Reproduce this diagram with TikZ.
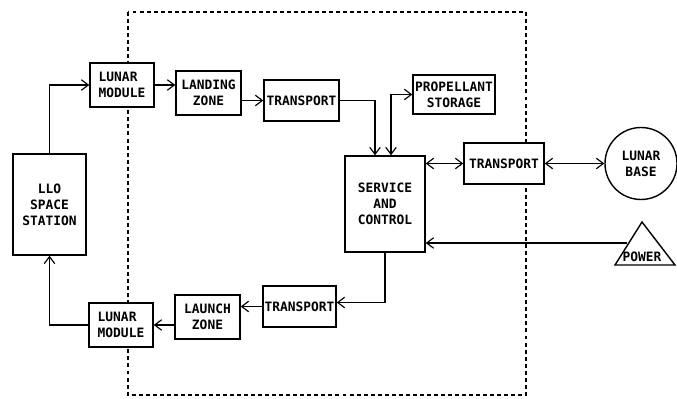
\documentclass[tikz,border=0pt]{standalone}
\usepackage{fontspec}
\setmonofont{DejaVu Sans Mono}
\usetikzlibrary{arrows.meta}
\tikzset{
  unit/.style={draw,line width=1.2pt,fill=white,inner sep=0pt,align=center,
    font=\ttfamily\bfseries\fontsize{11}{13.5}\selectfont},
  flow/.style={line width=1pt,-{Straight Barb[length=6pt,width=9pt]}},
  twoway/.style={line width=1pt,{Straight Barb[length=6pt,width=9pt]}-{Straight Barb[length=6pt,width=9pt]}}
}

\begin{document}
\begin{tikzpicture}[x=0.03cm,y=-0.03cm]
\path[use as bounding box] (0,0) rectangle (677,399);
% site boundary
\draw[line width=1.7pt,dash pattern=on 3.4pt off 2.6pt] (128,12) rectangle (526,395);
% units
\node[unit,minimum width=2.19cm,minimum height=3.03cm] (llo) at (49.5,204.5) {LLO\\SPACE\\STATION};
\node[unit,align=left,minimum width=1.92cm,minimum height=1.32cm] (lmtop) at (122,85) {LUNAR\\MODULE};
\node[unit,minimum width=1.95cm,minimum height=1.32cm] (landing) at (208.5,93) {LANDING\\ZONE};
\node[unit,minimum width=2.25cm,minimum height=1.23cm] (trtop) at (301.5,100.5) {TRANSPORT};
\node[unit,minimum width=2.46cm,minimum height=1.17cm] (prop) at (454,94.5) {PROPELLANT\\STORAGE};
\node[unit,minimum width=2.40cm,minimum height=2.88cm] (serv) at (385,204) {SERVICE\\AND\\CONTROL};
\node[unit,minimum width=2.40cm,minimum height=1.23cm] (trright) at (504,163.5) {TRANSPORT};
\node[unit,circle,minimum size=2.16cm] (base) at (641,163.5) {LUNAR\\BASE};
\node[unit,minimum width=2.19cm,minimum height=1.23cm] (trbot) at (299.5,306.5) {TRANSPORT};
\node[unit,minimum width=1.95cm,minimum height=1.32cm] (launch) at (207.5,317) {LAUNCH\\ZONE};
\node[unit,align=left,minimum width=1.92cm,minimum height=1.32cm] (lmbot) at (121,325) {LUNAR\\MODULE};
% power source
\draw[line width=1.2pt] (642,222) -- (675,265) -- (615,265) -- cycle;
\node[font=\ttfamily\bfseries\fontsize{11}{13.5}\selectfont,inner sep=0pt] (power) at (642,257) {POWER};
\coordinate (pwr) at (627,243);
% flows
\draw[flow] (llo.north) |- (lmtop.west);
\draw[flow] (lmtop.east) -- (landing.west |- lmtop.east);
\draw[flow] (landing.east |- trtop.west) -- (trtop.west);
\draw[flow] (trtop.east) -| ([xshift=-0.3cm]serv.north);
\draw[twoway] ([xshift=0.18cm]serv.north) |- (prop.west);
\draw[twoway] (trright.west -| serv.east) -- (trright.west);
\draw[twoway] (trright.east) -- (base.west);
\draw[flow] (pwr) -- (serv.east |- pwr);
\draw[flow] (serv.south) |- ([yshift=0.12cm]trbot.east);
\draw[flow] (trbot.west) -- (trbot.west -| launch.east);
\draw[flow] (lmbot.east -| launch.west) -- (lmbot.east);
\draw[flow] (lmbot.west) -| (llo.south);
\end{tikzpicture}
\end{document}
